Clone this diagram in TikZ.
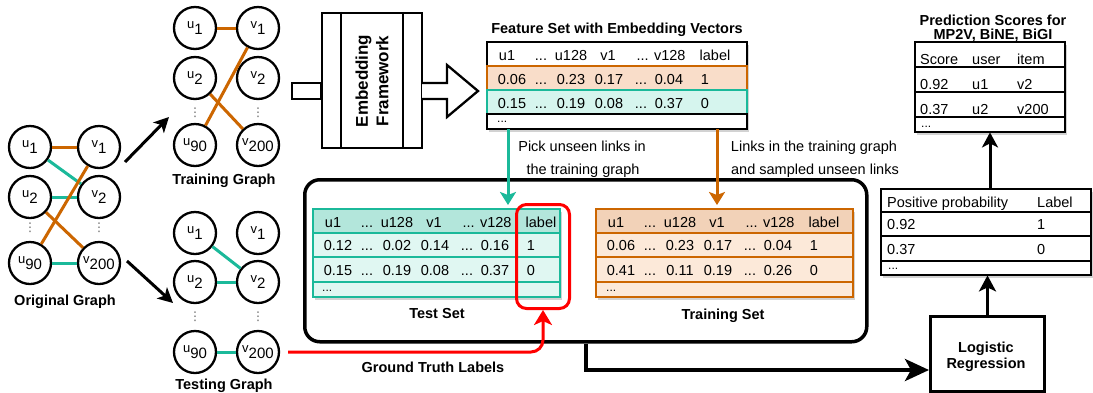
\documentclass[tikz,border=0pt]{standalone}
\usepackage{fontspec}
\setmainfont{Liberation Sans}
\newfontfamily\dejavu{DejaVu Sans}
\usetikzlibrary{arrows.meta,shadows}
\definecolor{orng}{HTML}{CC6600}
\definecolor{tealc}{HTML}{1BB99A}
\definecolor{ofill}{HTML}{F9DDC9}
\definecolor{tfill}{HTML}{D6F5EE}
\definecolor{thead}{HTML}{B3E6DB}
\definecolor{trow}{HTML}{E0F7F2}
\definecolor{ohead}{HTML}{F2D2B8}
\definecolor{orow}{HTML}{FCE9D9}
\newcommand\fs{\fontsize{14.5}{17}\selectfont}
\newcommand\fbb{\fontsize{14.5}{17}\selectfont\bfseries}
\newcommand\glab[2]{\raisebox{3pt}{\fontsize{13}{13}\selectfont #1}\raisebox{-3.5pt}{\fontsize{15}{15}\selectfont #2}}
\newcommand\vdd{{\dejavu\fontsize{12}{12}\selectfont ⋮}}
% header row: prefix, left x, baseline y
\newcommand\hdr[3]{%
  \node[tx] (#1a) at (#2+20,#3) {u1};
  \node[tx] (#1b) at (#2+54,#3) {...};
  \node[tx] (#1c) at (#2+84,#3) {u128};
  \node[tx] (#1d) at (#2+121,#3) {v1};
  \node[tx] (#1e) at (#2+174,#3) {... v128};
  \node[tx] (#1f) at (#2+228,#3) {label};}
% value row: prefix, left x, baseline y, four values, label
\newcommand\vrow[8]{%
  \node[tx] (#1a) at (#2+25,#3) {#4};
  \node[tx] (#1b) at (#2+54,#3) {...};
  \node[tx] (#1c) at (#2+84,#3) {#5};
  \node[tx] (#1d) at (#2+122,#3) {#6};
  \node[tx] (#1e) at (#2+154,#3) {...};
  \node[tx] (#1f) at (#2+182,#3) {#7};
  \node[tx] (#1g) at (#2+218,#3) {#8};}
\begin{document}
\begin{tikzpicture}[x=1pt,y=-1pt,
  tx/.style={font=\fs,anchor=base,inner sep=0},
  txl/.style={font=\fs,anchor=base west,inner sep=0},
  ttl/.style={font=\fbb,anchor=base,inner sep=0},
  gnode/.style={circle,draw,line width=2.3,minimum size=42,inner sep=0,fill=white},
  dotsn/.style={inner sep=0,text=black!60},
  oedge/.style={draw=orng,line width=3},
  tedge/.style={draw=tealc,line width=3},
  shad/.style={drop shadow={shadow xshift=2pt,shadow yshift=-3pt,opacity=0.35}},
  tbl/.style={inner sep=0,fill=white,anchor=north west},
  blkarrow/.style={line width=3,-{Stealth[length=15,width=15,inset=4]}},
]
\useasboundingbox[fill=white] (0,0) rectangle (1093,392);

% ---------- Original graph ----------
\node[gnode] (ou1) at (30,147) {\glab{u}{1}};
\node[gnode] (ov1) at (99,147) {\glab{v}{1}};
\node[gnode] (ou2) at (30,197) {\glab{u}{2}};
\node[gnode] (ov2) at (99,197) {\glab{v}{2}};
\node[dotsn] (oud) at (30,228) {\vdd};
\node[dotsn] (ovd) at (99,228) {\vdd};
\node[gnode] (ou90) at (30,263) {\glab{u}{90}};
\node[gnode] (ov200) at (99,263) {\glab{v}{200}};
\begin{scope}[on background layer/.try]
\end{scope}
\draw[oedge] (ou1) -- (ov1);
\draw[tedge] (ou1) -- (ov2);
\draw[tedge] (ou2) -- (ov2);
\draw[oedge] (ou2) -- (ov200);
\draw[oedge] (ou90) -- (ov1);
\draw[tedge] (ou90) -- (ov200);
\node[ttl] (otitle) at (65,305) {Original Graph};

% ---------- Training graph ----------
\node[gnode] (au1) at (195,28) {\glab{u}{1}};
\node[gnode] (av1) at (258,28) {\glab{v}{1}};
\node[gnode] (au2) at (195,78) {\glab{u}{2}};
\node[gnode] (av2) at (258,78) {\glab{v}{2}};
\node[dotsn] (aud) at (195,113) {\vdd};
\node[dotsn] (avd) at (258,113) {\vdd};
\node[gnode] (au90) at (195,145) {\glab{u}{90}};
\node[gnode] (av200) at (258,145) {\glab{v}{200}};
\draw[oedge] (au1) -- (av1);
\draw[oedge] (au90) -- (av1);
\draw[oedge] (au2) -- (av200);
\node[ttl] (atitle) at (224,184) {Training Graph};

% ---------- Testing graph ----------
\node[gnode] (bu1) at (195,233) {\glab{u}{1}};
\node[gnode] (bv1) at (258,233) {\glab{v}{1}};
\node[gnode] (bu2) at (195,282) {\glab{u}{2}};
\node[gnode] (bv2) at (258,282) {\glab{v}{2}};
\node[dotsn] (bud) at (195,317) {\vdd};
\node[dotsn] (bvd) at (258,317) {\vdd};
\node[gnode] (bu90) at (195,352) {\glab{u}{90}};
\node[gnode] (bv200) at (258,352) {\glab{v}{200}};
\draw[tedge] (bu1) -- (bv2);
\draw[tedge] (bu2) -- (bv2);
\draw[tedge] (bu90) -- (bv200);
\node[ttl] (btitle) at (224,389) {Testing Graph};

% split arrows
\coordinate (a1s) at (125,162);
\coordinate (a1e) at (169,117);
\coordinate (a2s) at (127,261);
\coordinate (a2e) at (173,303);
\draw[blkarrow] (a1s) -- (a1e);
\draw[blkarrow] (a2s) -- (a2e);

% ---------- Embedding framework ----------
\node[draw,line width=2.3,minimum width=100,minimum height=135,inner sep=0,fill=white] (emb) at (372,80.5) {};
\draw[line width=2.3] ([xshift=20pt]emb.north west) -- ([xshift=20pt]emb.south west);
\draw[line width=2.3] ([xshift=-20pt]emb.north east) -- ([xshift=-20pt]emb.south east);
\node[font=\bfseries\fontsize{17}{20.5}\selectfont,rotate=90,align=center,inner sep=0] (embt) at (372,81) {Embedding\\Framework};
\node[draw,line width=2.3,minimum width=29,minimum height=16,inner sep=0,anchor=east] (stub) at (322,91) {};
\draw[line width=2.3,fill=white,line join=miter] (422,83) -- (447,83) -- (447,65) -- (478,91) -- (447,117) -- (447,99) -- (422,99);

% ---------- Feature set ----------
\node[ttl] (ftitle) at (617,33) {Feature Set with Embedding Vectors};
\node[tbl,shad,minimum width=260,minimum height=87] (feat) at (487,42) {};
\draw[line width=2.5,fill=white] (487,42) rectangle (747,66);
\draw[line width=2.5,draw=orng,fill=ofill] (487,66) rectangle (747,90);
\draw[line width=2.5,draw=tealc,fill=tfill] (487,90) rectangle (747,114);
\draw[line width=2.5,fill=white] (487,114) rectangle (747,129);
\hdr{fh}{487}{60}
\vrow{fr1}{487}{84}{0.06}{0.23}{0.17}{0.04}{1}
\vrow{fr2}{487}{108}{0.15}{0.19}{0.08}{0.37}{0}
\node[txl,font=\fontsize{12}{12}\selectfont] (fdots) at (497,122) {...};

% ---------- big frame ----------
\node[draw,line width=3.5,rounded corners=15,minimum width=562,minimum height=162,inner sep=0,anchor=north west] (frame) at (303,178) {};

% ---------- arrows from feature set ----------
\coordinate (cT) at (508,0);
\coordinate (cO) at (717,0);
\node[tx] (pick1) at (582,151) {Pick unseen links in};
\node[tx] (pick2) at (583,174) {the training graph};
\node[tx] (lnk1) at (814,151) {Links in the training graph};
\node[tx] (lnk2) at (815,174) {and sampled unseen links};

% ---------- Test set ----------
\node[tbl,shad,minimum width=247,minimum height=88] (test) at (313,209) {};
\draw[line width=2.5,draw=tealc,fill=thead] (313,209) rectangle (560,233);
\draw[line width=2.5,draw=tealc,fill=trow] (313,233) rectangle (560,257);
\draw[line width=2.5,draw=tealc,fill=trow] (313,257) rectangle (560,282);
\draw[line width=2.5,draw=tealc,fill=trow] (313,282) rectangle (560,297);
\hdr{th}{313}{227}
\vrow{tr1}{313}{250}{0.12}{0.02}{0.14}{0.16}{1}
\vrow{tr2}{313}{275}{0.15}{0.19}{0.08}{0.37}{0}
\node[txl,font=\fontsize{12}{12}\selectfont] (tdots) at (322,291) {...};
\node[ttl] (ttitle) at (437,318) {Test Set};
\node[draw=red,line width=3,rounded corners=10,minimum width=53,minimum height=104,inner sep=0,anchor=north west] (redbox) at (515,203) {};

% ---------- Training set ----------
\node[tbl,shad,minimum width=257,minimum height=88] (train) at (596,209) {};
\draw[line width=2.5,draw=orng,fill=ohead] (596,209) rectangle (853,233);
\draw[line width=2.5,draw=orng,fill=orow] (596,233) rectangle (853,257);
\draw[line width=2.5,draw=orng,fill=orow] (596,257) rectangle (853,282);
\draw[line width=2.5,draw=orng,fill=orow] (596,282) rectangle (853,297);
\hdr{nh}{596}{227}
\vrow{nr1}{596}{250}{0.06}{0.23}{0.17}{0.04}{1}
\vrow{nr2}{596}{275}{0.41}{0.11}{0.19}{0.26}{0}
\node[txl,font=\fontsize{12}{12}\selectfont] (ndots) at (606,291) {...};
\node[ttl] (ntitle) at (723,319) {Training Set};

\draw[draw=tealc,line width=3,-{Stealth[length=13,width=16,inset=3]}] (feat.south -| cT) -- ([yshift=4pt]test.north -| cT);
\draw[draw=orng,line width=3,-{Stealth[length=13,width=16,inset=3]}] (feat.south -| cO) -- ([yshift=4pt]train.north -| cO);

% ---------- Ground truth ----------
\draw[red,line width=3,rounded corners=12,-{Stealth[length=15,width=18,inset=4]},shorten <=8pt] (bv200.east) -| (redbox.south);
\node[ttl] (gt) at (433,372) {Ground Truth Labels};

% ---------- Logistic regression ----------
\node[draw,line width=3,minimum width=114,minimum height=75,inner sep=0,fill=white,anchor=north west] (lr) at (929,315) {};
\node[ttl] (lr1) at (986,352) {Logistic};
\node[ttl] (lr2) at (986,368) {Regression};
\coordinate (c585) at (586,0);
\coordinate (lrin) at (929,370);
\draw[line width=4,-{Stealth[length=24,width=22,inset=6]}] (frame.south -| c585) |- (lrin);

% ---------- Positive probability ----------
\node[tbl,shad,minimum width=210,minimum height=86] (pos) at (881,189) {};
\draw[line width=1.2,fill=white] (881,189) rectangle (1091,212);
\draw[line width=1.2,fill=white] (881,212) rectangle (1091,236);
\draw[line width=1.2,fill=white] (881,236) rectangle (1091,261);
\draw[line width=1.2,fill=white] (881,261) rectangle (1091,275);
\node[txl] (p1) at (887,207) {Positive probability};
\node[txl] (p2) at (1037,207) {Label};
\node[txl] (p3) at (887,229) {0.92};
\node[txl] (p4) at (1037,229) {1};
\node[txl] (p5) at (887,254) {0.37};
\node[txl] (p6) at (1037,254) {0};
\node[txl,font=\fontsize{12}{12}\selectfont] (pdots) at (888,269) {...};
\draw[line width=3,-{Stealth[length=16,width=17,inset=4]}] (lr.north) -- (pos.south -| lr.north);

% ---------- Prediction scores ----------
\node[ttl] (s1) at (993,25) {Prediction Scores for};
\node[ttl] (s2) at (993,39.5) {MP2V, BiNE, BiGI};
\node[tbl,shad,minimum width=150,minimum height=90] (pred) at (915,42) {};
\draw[line width=2.5,fill=white] (915,42) rectangle (1065,67);
\draw[line width=2.5,fill=white] (915,67) rectangle (1065,92);
\draw[line width=2.5,fill=white] (915,92) rectangle (1065,117);
\draw[line width=2.5,fill=white] (915,117) rectangle (1065,132);
\node[txl] (q1) at (920,64.5) {Score};
\node[txl] (q2) at (972,64.5) {user};
\node[txl] (q3) at (1017,64.5) {item};
\node[txl] (q4) at (920,89.5) {0.92};
\node[txl] (q5) at (972,89.5) {u1};
\node[txl] (q6) at (1017,89.5) {v2};
\node[txl] (q7) at (920,114.5) {0.37};
\node[txl] (q8) at (972,114.5) {u2};
\node[txl] (q9) at (1017,114.5) {v200};
\node[txl,font=\fontsize{12}{12}\selectfont] (qdots) at (921,127) {...};
\coordinate (c990) at (990,0);
\draw[line width=3,-{Stealth[length=15,width=16,inset=4]}] (pos.north -| c990) -- (pred.south -| c990);
\end{tikzpicture}
\end{document}
